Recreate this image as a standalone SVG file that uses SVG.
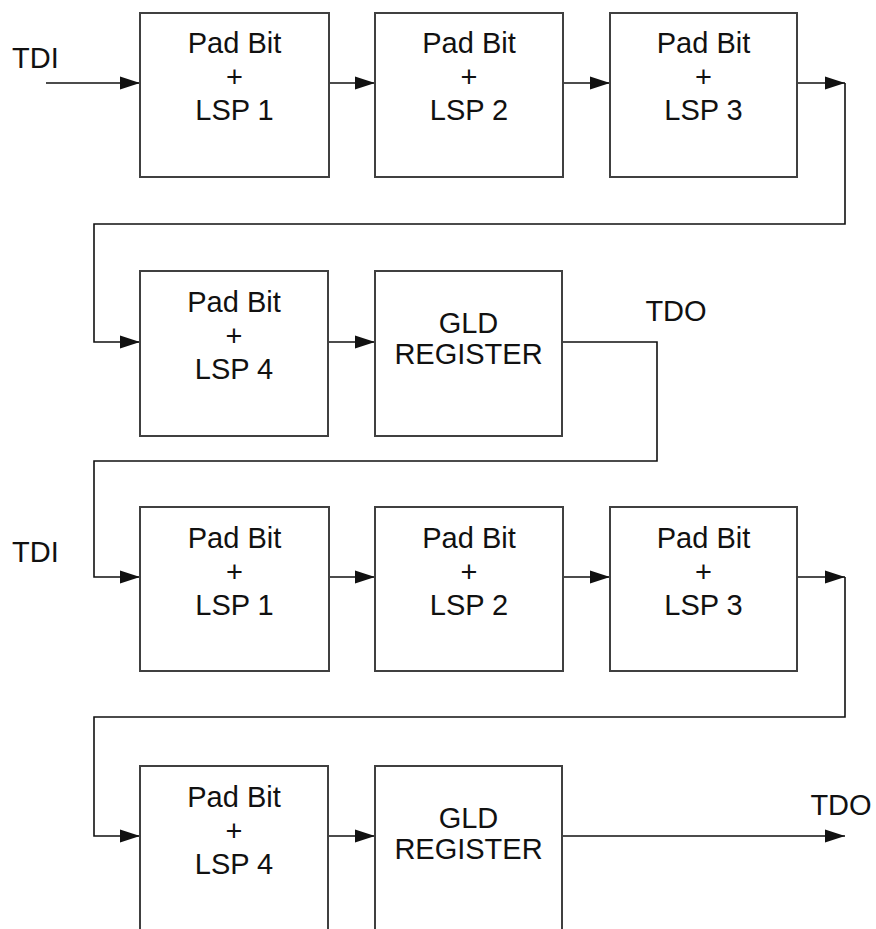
<svg xmlns="http://www.w3.org/2000/svg" width="876" height="929" viewBox="0 0 876 929">
<style>
.box{fill:#fff;stroke:#404040;stroke-width:2}
.t{font-family:"Liberation Sans",Arial,sans-serif;font-size:29px;fill:#111;text-anchor:middle}
.lbl{font-family:"Liberation Sans",Arial,sans-serif;font-size:29px;fill:#111}
.c{fill:none;stroke:#111;stroke-width:1.6}
</style>
<defs>
<marker id="ah" markerUnits="userSpaceOnUse" markerWidth="20" markerHeight="14" refX="20" refY="7" orient="auto">
<path d="M0,0.5 L20,7 L0,13.5 z" fill="#111"/>
</marker>
</defs>
<rect width="876" height="929" fill="#fff"/>

<g id="connectors">
<line class="c" x1="46" y1="83" x2="140" y2="83" marker-end="url(#ah)"/>
<line class="c" x1="329" y1="83" x2="375" y2="83" marker-end="url(#ah)"/>
<line class="c" x1="563" y1="83" x2="610" y2="83" marker-end="url(#ah)"/>
<line class="c" x1="797" y1="83" x2="845" y2="83" marker-end="url(#ah)"/>
<polyline class="c" points="845,83 845,224 94,224 94,342 140,342" marker-end="url(#ah)"/>
<line class="c" x1="328" y1="342" x2="375" y2="342" marker-end="url(#ah)"/>
<polyline class="c" points="562,342 657,342 657,461 94,461 94,577 140,577" marker-end="url(#ah)"/>
<line class="c" x1="329" y1="577" x2="375" y2="577" marker-end="url(#ah)"/>
<line class="c" x1="563" y1="577" x2="610" y2="577" marker-end="url(#ah)"/>
<line class="c" x1="797" y1="577" x2="845" y2="577" marker-end="url(#ah)"/>
<polyline class="c" points="845,577 845,717 94,717 94,836 140,836" marker-end="url(#ah)"/>
<line class="c" x1="328" y1="836" x2="375" y2="836" marker-end="url(#ah)"/>
<line class="c" x1="562" y1="836" x2="845" y2="836" marker-end="url(#ah)"/>
</g>

<g id="labels">
<text class="lbl" x="12" y="68">TDI</text>
<text class="lbl" x="12" y="562">TDI</text>
<text class="t" x="676" y="321">TDO</text>
<text class="t" x="841" y="815">TDO</text>
</g>

<g id="r1b1"><rect class="box" x="140" y="13" width="189" height="164"/>
<text class="t" x="234.5" y="53">Pad Bit</text><text class="t" x="234.5" y="86.5">+</text><text class="t" x="234.5" y="120">LSP 1</text></g>
<g id="r1b2"><rect class="box" x="375" y="13" width="188" height="164"/>
<text class="t" x="469" y="53">Pad Bit</text><text class="t" x="469" y="86.5">+</text><text class="t" x="469" y="120">LSP 2</text></g>
<g id="r1b3"><rect class="box" x="610" y="13" width="187" height="164"/>
<text class="t" x="703.5" y="53">Pad Bit</text><text class="t" x="703.5" y="86.5">+</text><text class="t" x="703.5" y="120">LSP 3</text></g>

<g id="r2b1"><rect class="box" x="140" y="271" width="188" height="165"/>
<text class="t" x="234" y="312">Pad Bit</text><text class="t" x="234" y="345.5">+</text><text class="t" x="234" y="379">LSP 4</text></g>
<g id="r2b2"><rect class="box" x="375" y="271" width="187" height="165"/>
<text class="t" x="468.5" y="333">GLD</text><text class="t" x="468.5" y="364">REGISTER</text></g>

<g id="r3b1"><rect class="box" x="140" y="507" width="189" height="164"/>
<text class="t" x="234.5" y="548">Pad Bit</text><text class="t" x="234.5" y="581.5">+</text><text class="t" x="234.5" y="615">LSP 1</text></g>
<g id="r3b2"><rect class="box" x="375" y="507" width="188" height="164"/>
<text class="t" x="469" y="548">Pad Bit</text><text class="t" x="469" y="581.5">+</text><text class="t" x="469" y="615">LSP 2</text></g>
<g id="r3b3"><rect class="box" x="610" y="507" width="187" height="164"/>
<text class="t" x="703.5" y="548">Pad Bit</text><text class="t" x="703.5" y="581.5">+</text><text class="t" x="703.5" y="615">LSP 3</text></g>

<g id="r4b1"><rect class="box" x="140" y="766" width="188" height="180"/>
<text class="t" x="234" y="807">Pad Bit</text><text class="t" x="234" y="840.5">+</text><text class="t" x="234" y="874">LSP 4</text></g>
<g id="r4b2"><rect class="box" x="375" y="766" width="187" height="180"/>
<text class="t" x="468.5" y="828">GLD</text><text class="t" x="468.5" y="859">REGISTER</text></g>
</svg>
